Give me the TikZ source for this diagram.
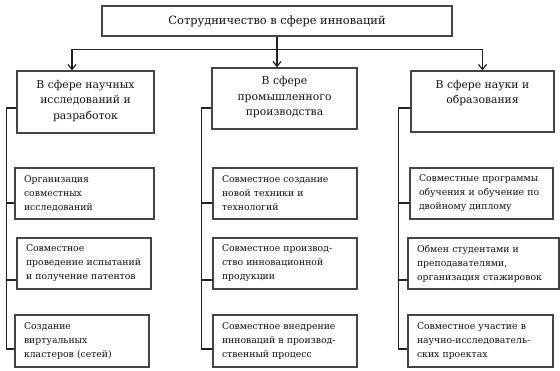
\documentclass[tikz,border=0pt]{standalone}
\usepackage{fontspec}
\setmainfont{DejaVu Serif}
\usetikzlibrary{arrows.meta,calc}
\definecolor{boxc}{HTML}{444444}
\definecolor{txtc}{HTML}{111111}
\definecolor{linec}{HTML}{222222}
\tikzset{
  box/.style={draw=boxc,line width=1.2pt,inner sep=0pt},
  ptext/.style={text=txtc,align=center,inner sep=0pt,font=\fontsize{10.8}{15.5}\selectfont},
  cbox/.style={draw=boxc,line width=1.2pt,inner ysep=0pt,inner xsep=9pt,text=txtc,align=left,font=\fontsize{9.3}{14}\selectfont},
  conn/.style={draw=linec,line width=1.4pt},
  arr/.style={conn,-{Straight Barb[length=5pt,width=8pt,line width=1.2pt]}}
}
\begin{document}
\begin{tikzpicture}[x=1pt,y=-1pt]
\useasboundingbox (0,0) rectangle (560,371);
% top
\node[box,minimum width=350pt,minimum height=30pt,text=txtc,font=\fontsize{11.4}{13}\selectfont] (T) at (277,21) {Сотрудничество в сфере инноваций};
% parents
\node[box,minimum width=137pt,minimum height=62pt] (L) at (85.5,102) {};
\node[box,minimum width=145pt,minimum height=61pt] (M) at (284.5,98.5) {};
\node[box,minimum width=143pt,minimum height=61pt] (R) at (482.5,101.5) {};
\node[ptext,anchor=north] (Lt) at ([yshift=-9.5pt]L.north) {В сфере научных\\исследований и\\разработок};
\node[ptext,anchor=north] (Mt) at ([yshift=-9pt]M.north) {В сфере\\промышленного\\производства};
\node[ptext,anchor=north] (Rt) at ([yshift=-9.5pt]R.north) {В сфере науки и\\образования};
% children
\node[cbox,text width=121pt,minimum height=51pt] (L1) at (84.5,193.5) {Организация\\совместных\\исследований};
\node[cbox,text width=116pt,minimum height=51pt] (L2) at (84,263.5) {Совместное\\проведение испытаний\\и получение патентов};
\node[cbox,text width=116pt,minimum height=52pt] (L3) at (82,341) {Создание\\виртуальных\\кластеров (сетей)};
\node[cbox,text width=126pt,minimum height=51pt] (M1) at (285,193.5) {Совместное создание\\новой техники и\\технологий};
\node[cbox,text width=126pt,minimum height=51pt] (M2) at (285,263.5) {Совместное производ-\\ство инновационной\\продукции};
\node[cbox,text width=126pt,minimum height=52pt] (M3) at (285,341) {Совместное внедрение\\инноваций в производ-\\ственный процесс};
\node[cbox,text width=125pt,minimum height=51pt] (R1) at (481.5,193.5) {Совместные программы\\обучения и обучение по\\двойному диплому};
\node[cbox,text width=133pt,minimum height=51pt] (R2) at (483.5,263.5) {Обмен студентами и\\преподавателями,\\организация стажировок};
\node[cbox,text width=127pt,minimum height=52pt] (R3) at (480.5,341) {Совместное участие в\\научно-исследователь-\\ских проектах};
% top connectors
\coordinate (bus) at ($(T.south)+(0,13)$);
\draw[conn] (T.south) -- (bus);
\draw[arr] (bus) -| ([xshift=-13.5pt]L.north);
\draw[arr] (bus) -- (T.south |- M.north);
\draw[arr] (bus) -| (R.north);
% left branch
\draw[conn] ([yshift=-6pt]L.west) -| ([xshift=-8pt,yshift=-8pt]L3.west) -- ([yshift=-8pt]L3.west);
\draw[conn] ([yshift=-9.5pt]L1.west) -- ++(-8pt,0);
\draw[conn] ([yshift=-16.5pt]L2.west) -- ++(-10pt,0);
% middle branch
\draw[conn] ([yshift=-9.5pt]M.west) -| ([xshift=-11pt,yshift=-8pt]M3.west) -- ([yshift=-8pt]M3.west);
\draw[conn] ([yshift=-9.5pt]M1.west) -- ++(-11pt,0);
\draw[conn] ([yshift=-16.5pt]M2.west) -- ++(-11pt,0);
% right branch
\draw[conn] ([yshift=-6.5pt]R.west) -| ([xshift=-9pt,yshift=-8pt]R3.west) -- ([yshift=-8pt]R3.west);
\draw[conn] ([yshift=-9.5pt]R1.west) -- ++(-11pt,0);
\draw[conn] ([yshift=-16.5pt]R2.west) -- ++(-9pt,0);
\end{tikzpicture}
\end{document}
